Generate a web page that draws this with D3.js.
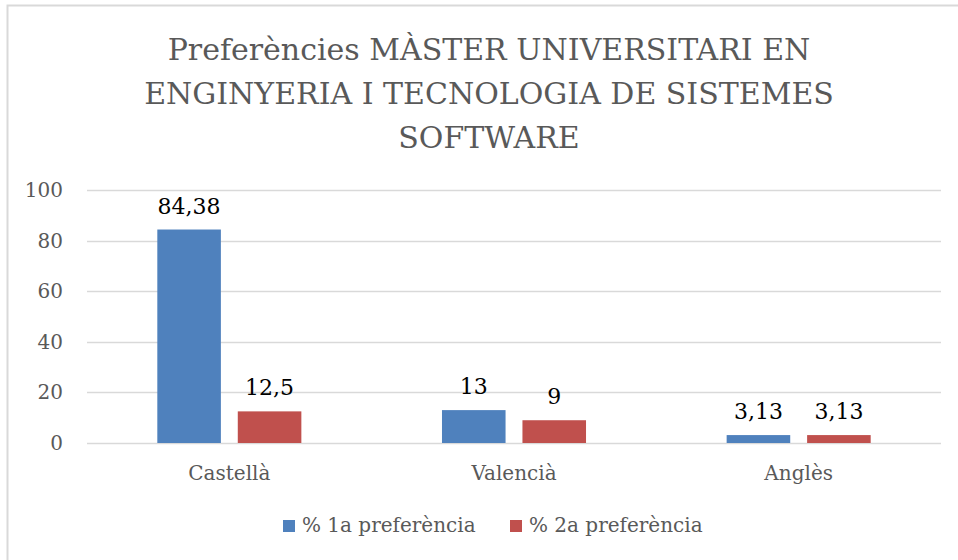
<!DOCTYPE html>
<html>
<head>
<meta charset="utf-8">
<script src="https://cdn.jsdelivr.net/npm/d3@7/dist/d3.min.js"></script>
<style>
  body { margin: 0; background: #fff; }
  svg { display: block; font-family: "DejaVu Serif", serif; }
</style>
</head>
<body>
<div id="chart"></div>
<script>
// chart data
var categories = ["Castellà", "Valencià", "Anglès"];
var seriesNames = ["% 1a preferència", "% 2a preferència"];
var firstPref = [84.38, 13, 3.13];
var secondPref = [12.5, 9, 3.13];
var yTicks = [0, 20, 40, 60, 80, 100];
var titleLines = ["Preferències MÀSTER UNIVERSITARI EN",
                  "ENGINYERIA I TECNOLOGIA DE SISTEMES",
                  "SOFTWARE"];

var colors = ["#4f81bd", "#c0504d"];

var svgWidth = 958;
var svgHeight = 560;

// plot area
var plot = { left: 87, right: 941, top: 190, bottom: 443 };

var svg = d3.select("#chart")
  .append("svg")
  .attr("width", svgWidth)
  .attr("height", svgHeight);

// outer chart border (only top and left visible in the crop)
svg.append("rect")
  .attr("x", 7.5)
  .attr("y", 5.5)
  .attr("width", 1000)
  .attr("height", 1000)
  .attr("fill", "none")
  .attr("stroke", "#d9d9d9")
  .attr("stroke-width", 2);

// title
svg.append("text")
  .attr("text-anchor", "middle")
  .attr("fill", "#595959")
  .attr("font-size", "30px")
  .selectAll("tspan")
  .data(titleLines)
  .enter()
  .append("tspan")
  .attr("x", 489)
  .attr("y", (d, i) => 60 + i * 44)
  .text(d => d);

// scales
var x0 = d3.scaleBand()
  .domain(categories)
  .range([plot.left, plot.right])
  .paddingInner(0.494)
  .paddingOuter(0.247);

var x1 = d3.scaleBand()
  .domain([0, 1])
  .range([0, x0.bandwidth()])
  .paddingInner(0.21)
  .paddingOuter(0);

var y = d3.scaleLinear()
  .domain([0, 100])
  .range([plot.bottom, plot.top]);

// gridlines
svg.append("g")
  .selectAll("line")
  .data(yTicks)
  .enter()
  .append("line")
  .attr("x1", plot.left)
  .attr("x2", plot.right)
  .attr("y1", d => Math.round(y(d)) + 0.5)
  .attr("y2", d => Math.round(y(d)) + 0.5)
  .attr("stroke", "#d9d9d9")
  .attr("stroke-width", 1.5);

// y axis labels
var leftAxis = d3.axisLeft(y).tickValues(yTicks).tickSize(0).tickPadding(0);
var yAxisG = svg.append("g")
  .attr("transform", "translate(63,0)")
  .call(leftAxis);
yAxisG.select(".domain").remove();
yAxisG.selectAll("text")
  .attr("font-family", "DejaVu Serif, serif")
  .attr("font-size", "20px")
  .attr("fill", "#595959");

// x axis labels
var bottomAxis = d3.axisBottom(x0).tickSize(0).tickPadding(0);
var xAxisG = svg.append("g")
  .attr("transform", "translate(0,466)")
  .call(bottomAxis);
xAxisG.select(".domain").remove();
xAxisG.selectAll("text")
  .attr("font-family", "DejaVu Serif, serif")
  .attr("font-size", "20px")
  .attr("fill", "#595959");

// bars
var rows = categories.map((c, i) => ({ cat: c, values: [firstPref[i], secondPref[i]] }));

var groups = svg.append("g")
  .selectAll("g")
  .data(rows)
  .enter()
  .append("g")
  .attr("transform", d => `translate(${x0(d.cat)},0)`);

groups.selectAll("rect")
  .data(d => d.values.map((v, k) => ({ k: k, v: v })))
  .enter()
  .append("rect")
  .attr("x", d => x1(d.k))
  .attr("y", d => y(d.v))
  .attr("width", x1.bandwidth())
  .attr("height", d => y(0) - y(d.v))
  .attr("fill", d => colors[d.k]);

// data labels
groups.selectAll("text")
  .data(d => d.values.map((v, k) => ({ k: k, v: v })))
  .enter()
  .append("text")
  .attr("x", d => x1(d.k) + x1.bandwidth() / 2)
  .attr("y", d => y(d.v) - 16)
  .attr("text-anchor", "middle")
  .attr("font-size", "22px")
  .attr("fill", "#000")
  .text(d => String(d.v).replace(".", ","));

// legend
var legendX = [283, 510];
var legend = svg.append("g")
  .selectAll("g")
  .data(seriesNames)
  .enter()
  .append("g")
  .attr("transform", (d, i) => `translate(${legendX[i]},520)`);

legend.append("rect")
  .attr("width", 12)
  .attr("height", 12)
  .attr("fill", (d, i) => colors[i]);

legend.append("text")
  .attr("x", 19)
  .attr("y", 12)
  .attr("font-size", "20px")
  .attr("fill", "#595959")
  .text(d => d);
</script>
</body>
</html>
